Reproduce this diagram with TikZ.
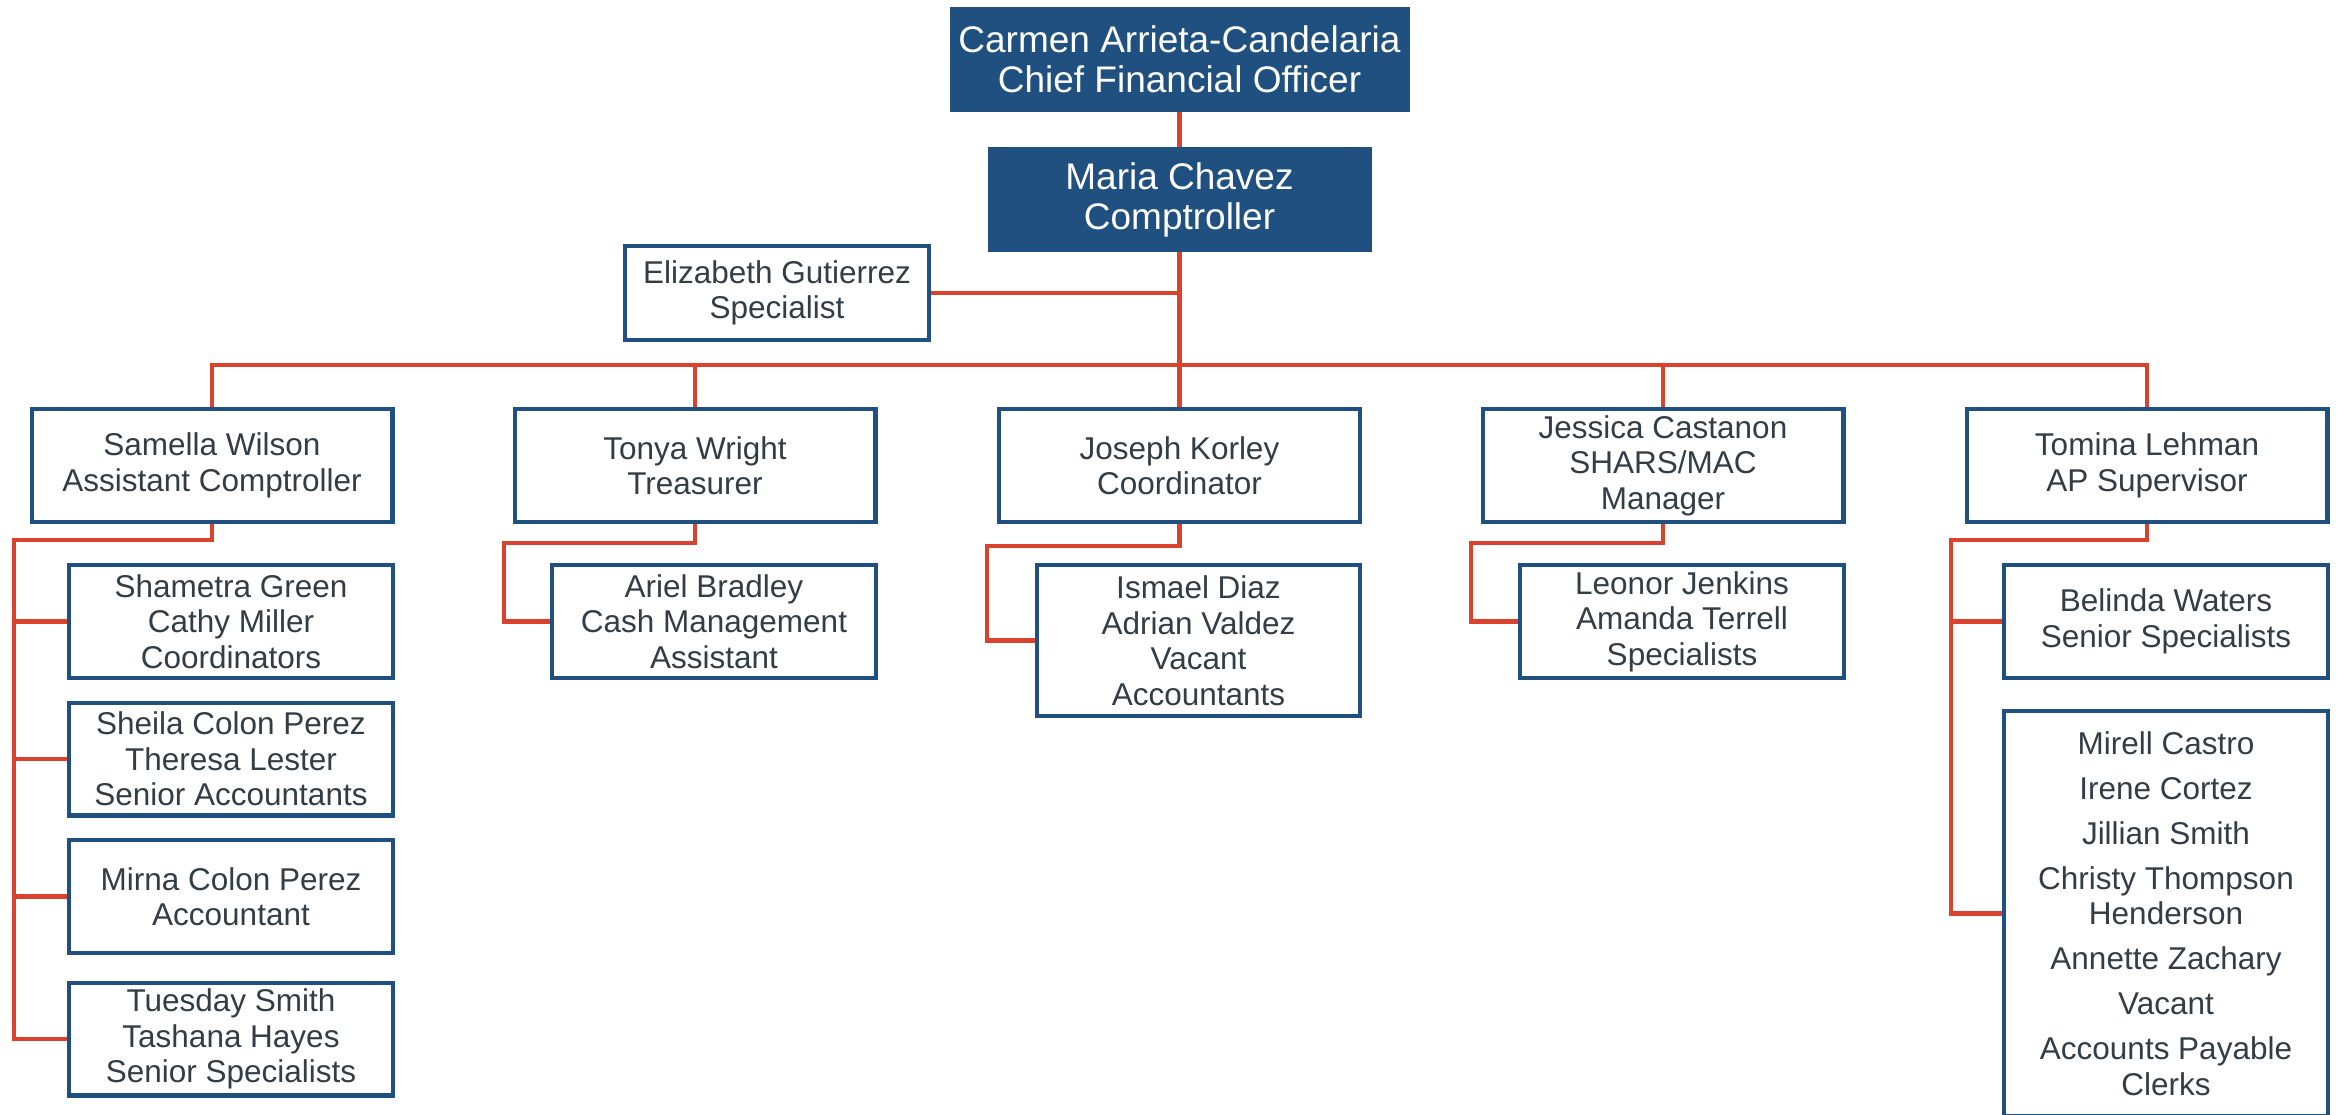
\documentclass[tikz,border=0pt]{standalone}
\usepackage{fontspec}
\setmainfont{Liberation Sans}
\definecolor{boxblue}{HTML}{1F5080}
\definecolor{linered}{HTML}{D9432E}
\definecolor{txtgray}{HTML}{333D45}
\begin{document}
\begin{tikzpicture}[x=1pt,y=-1pt,
  every node/.style={inner sep=0pt, outer sep=0pt},
  topbox/.style={fill=boxblue, text=white, font=\fontsize{37}{40}\selectfont, align=center, minimum height=105pt},
  orgbox/.style={draw=boxblue, line width=4.2pt, fill=white, text=txtgray, outer sep=2.1pt,
    font=\fontsize{31.5}{35.5}\selectfont, align=center},
  lvltwo/.style={orgbox, minimum width=360.8pt, minimum height=112.8pt},
  child/.style={orgbox, minimum width=323.8pt, minimum height=112.8pt},
  conn/.style={draw=linered, line width=4.6pt}
]
\useasboundingbox (0,0) rectangle (2341,1115);
\fill[white] (0,0) rectangle (2341,1115);

% top boxes
\node[topbox, minimum width=460pt] (cfo) at (1179.5,59.5) {Carmen Arrieta-Candelaria\\Chief Financial Officer};
\node[topbox, minimum width=384pt] (cmp) at (1179.5,199.5) {Maria Chavez\\Comptroller};
\node[orgbox, minimum width=303.8pt, minimum height=93.8pt] (eliz) at (777,293) {Elizabeth Gutierrez\\Specialist};

% level two
\node[lvltwo] (sam) at (212,465.5) {Samella Wilson\\Assistant Comptroller};
\node[lvltwo] (ton) at (695,465.5) {Tonya Wright\\Treasurer};
\node[lvltwo] (jos) at (1179.5,465.5) {Joseph Korley\\Coordinator};
\node[lvltwo] (jes) at (1663,465.5) {Jessica Castanon\\SHARS/MAC\\Manager};
\node[lvltwo] (tom) at (2147,465.5) {Tomina Lehman\\AP Supervisor};

% children
\node[child] (sc1) at (231,621.5) {Shametra Green\\Cathy Miller\\Coordinators};
\node[child] (sc2) at (231,759) {Sheila Colon Perez\\Theresa Lester\\Senior Accountants};
\node[child] (sc3) at (231,896.5) {Mirna Colon Perez\\Accountant};
\node[child] (sc4) at (231,1039) {Tuesday Smith\\Tashana Hayes\\Senior Specialists};
\node[child] (tc1) at (714,621.5) {Ariel Bradley\\Cash Management\\Assistant};
\node[child, minimum width=323pt, minimum height=150.8pt] (jc1) at (1198.5,640.5) {Ismael Diaz\\Adrian Valdez\\Vacant\\Accountants};
\node[child] (jec1) at (1682,621.5) {Leonor Jenkins\\Amanda Terrell\\Specialists};
\node[child] (tmc1) at (2166,621.5) {Belinda Waters\\Senior Specialists};
\node[child, minimum height=404.8pt] (tmc2) at (2166,913.5) {Mirell Castro\\[9.5pt]Irene Cortez\\[9.5pt]Jillian Smith\\[9.5pt]Christy Thompson\\Henderson\\[9.5pt]Annette Zachary\\[9.5pt]Vacant\\[9.5pt]Accounts Payable\\Clerks};

% junction coordinates
\coordinate (bus) at (1179.5,365);
\coordinate (samE) at (14,540);
\coordinate (tonE) at (504,543);
\coordinate (josE) at (987,546);
\coordinate (jesE) at (1471,543);
\coordinate (tomE) at (1951,540);

% connectors
\draw[conn] (cfo.south) -- (cmp.north);
\draw[conn] (cmp.south) -- (jos.north);
\draw[conn] (eliz.east) -- (eliz.east -| cmp.south);
\draw[conn] (sam.north) |- (bus) -| (tom.north);
\draw[conn] (ton.north) -- (ton.north |- bus);
\draw[conn] (jes.north) -- (jes.north |- bus);

\draw[conn] (sam.south) |- (samE) |- (sc4.west);
\draw[conn] (samE) |- (sc1.west);
\draw[conn] (samE) |- (sc2.west);
\draw[conn] (samE) |- (sc3.west);

\draw[conn] (ton.south) |- (tonE) |- (tc1.west);
\draw[conn] (jos.south) |- (josE) |- (jc1.west);
\draw[conn] (jes.south) |- (jesE) |- (jec1.west);
\draw[conn] (tom.south) |- (tomE) |- (tmc2.west);
\draw[conn] (tomE) |- (tmc1.west);
\end{tikzpicture}
\end{document}
